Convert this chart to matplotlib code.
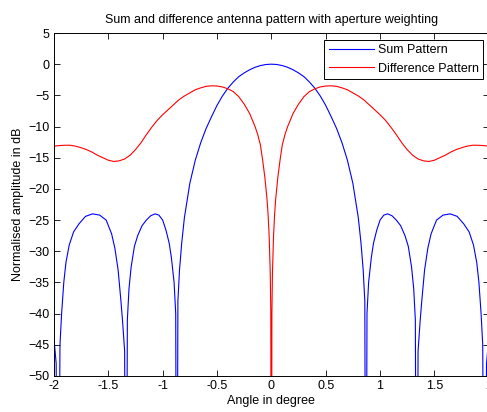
import matplotlib
matplotlib.use("Agg")
import matplotlib.pyplot as plt

# Sum pattern (angle in degree, amplitude in dB)
sum_angle = [-2.0, -1.98, -1.965, -1.945, -1.93, -1.91, -1.89, -1.86, -1.82, -1.77,
             -1.71, -1.645, -1.58, -1.52, -1.47, -1.44, -1.41, -1.385, -1.37, -1.35,
             -1.337, -1.325, -1.31, -1.29, -1.26, -1.23, -1.19, -1.15, -1.11, -1.07,
             -1.035, -1.0, -0.97, -0.94, -0.92, -0.895, -0.88, -0.87, -0.86, -0.845,
             -0.825, -0.8, -0.75, -0.7, -0.65, -0.6, -0.55, -0.5, -0.45, -0.4,
             -0.35, -0.3, -0.25, -0.2, -0.15, -0.1, -0.05, 0.0,
             0.05, 0.1, 0.15, 0.2, 0.25, 0.3, 0.35, 0.4, 0.45, 0.5,
             0.55, 0.6, 0.65, 0.7, 0.75, 0.8, 0.825, 0.845, 0.86, 0.87,
             0.88, 0.895, 0.92, 0.94, 0.97, 1.0, 1.035, 1.07, 1.11, 1.15,
             1.19, 1.23, 1.26, 1.29, 1.31, 1.325, 1.337, 1.35, 1.37, 1.385,
             1.41, 1.44, 1.47, 1.52, 1.58, 1.645, 1.71, 1.77, 1.82, 1.86,
             1.89, 1.91, 1.93, 1.945, 1.962, 1.98, 2.0]
sum_db = [-44.0, -48.0, -100.0, -45.0, -40.0, -35.0, -31.8, -29.0, -26.9, -25.6,
          -24.4, -24.0, -24.2, -25.0, -27.2, -29.5, -33.0, -37.8, -41.0, -46.0,
          -100.0, -41.0, -36.0, -32.5, -29.2, -27.5, -25.9, -25.0, -24.3, -24.0,
          -24.2, -25.0, -26.6, -28.7, -31.0, -35.0, -40.0, -100.0, -38.0, -33.0,
          -28.7, -24.6, -19.1, -15.4, -12.6, -10.3, -8.4, -6.6, -5.1, -3.85,
          -2.85, -2.0, -1.4, -0.9, -0.5, -0.22, -0.05, 0.0,
          -0.05, -0.22, -0.5, -0.9, -1.4, -2.0, -2.85, -3.85, -5.1, -6.6,
          -8.4, -10.3, -12.6, -15.4, -19.1, -24.6, -28.7, -33.0, -38.0, -100.0,
          -40.0, -35.0, -31.0, -28.7, -26.6, -25.0, -24.2, -24.0, -24.3, -25.0,
          -25.9, -27.5, -29.2, -32.5, -36.0, -41.0, -100.0, -46.0, -41.0, -37.8,
          -33.0, -29.5, -27.2, -25.0, -24.2, -24.0, -24.4, -25.6, -26.9, -29.0,
          -31.8, -35.0, -40.0, -45.0, -100.0, -48.0, -44.0]

# Difference pattern (angle in degree, amplitude in dB)
diff_angle = [-2.0, -1.95, -1.9, -1.85, -1.8, -1.75, -1.7, -1.65, -1.6, -1.55,
              -1.5, -1.45, -1.4, -1.35, -1.3, -1.25, -1.2, -1.15, -1.1, -1.05,
              -1.0, -0.95, -0.9, -0.85, -0.8, -0.75, -0.7, -0.65, -0.6, -0.55,
              -0.5, -0.45, -0.4, -0.35, -0.3, -0.25, -0.2, -0.15, -0.125, -0.1,
              -0.08, -0.06, -0.04, -0.03, -0.02, -0.01, -0.005, 0.0,
              0.005, 0.01, 0.02, 0.03, 0.04, 0.06, 0.08, 0.1, 0.125, 0.15,
              0.2, 0.25, 0.3, 0.35, 0.4, 0.45, 0.5, 0.55, 0.6, 0.65,
              0.7, 0.75, 0.8, 0.85, 0.9, 0.95, 1.0, 1.05, 1.1, 1.15,
              1.2, 1.25, 1.3, 1.35, 1.4, 1.45, 1.5, 1.55, 1.6, 1.65,
              1.7, 1.75, 1.8, 1.85, 1.9, 1.95, 2.0]
diff_db = [-13.15, -13.05, -13.0, -13.0, -13.15, -13.4, -13.7, -14.1, -14.6, -15.0,
           -15.4, -15.6, -15.5, -15.2, -14.6, -13.7, -12.6, -11.3, -10.1, -9.0,
           -8.1, -7.3, -6.5, -5.7, -5.1, -4.6, -4.1, -3.8, -3.55, -3.47,
           -3.5, -3.65, -3.95, -4.4, -5.2, -6.4, -7.9, -10.0, -11.3, -13.0,
           -15.4, -18.1, -21.6, -24.1, -27.6, -33.6, -40.0, -100.0,
           -40.0, -33.6, -27.6, -24.1, -21.6, -18.1, -15.4, -13.0, -11.3, -10.0,
           -7.9, -6.4, -5.2, -4.4, -3.95, -3.65, -3.5, -3.47, -3.55, -3.8,
           -4.1, -4.6, -5.1, -5.7, -6.5, -7.3, -8.1, -9.0, -10.1, -11.3,
           -12.6, -13.7, -14.6, -15.2, -15.5, -15.6, -15.4, -15.0, -14.6, -14.1,
           -13.7, -13.4, -13.15, -13.0, -13.0, -13.05, -13.15]

x_ticks = [-2, -1.5, -1, -0.5, 0, 0.5, 1, 1.5, 2]
x_tick_labels = ["-2", "-1.5", "-1", "-0.5", "0", "0.5", "1", "1.5", "2"]
y_ticks = [5, 0, -5, -10, -15, -20, -25, -30, -35, -40, -45, -50]

plt.rcParams['font.family'] = ['Liberation Sans', 'DejaVu Sans']

fig = plt.figure(figsize=(4.87, 4.12), dpi=100)
fig.patch.set_facecolor('white')
ax = fig.add_axes([54 / 487, 1 - 376 / 412, (488.7 - 54) / 487, (376 - 33) / 412])

ax.plot(sum_angle, sum_db, color='#0000ff', lw=0.8, label='Sum Pattern')
ax.plot(diff_angle, diff_db, color='#ff0000', lw=0.8, label='Difference Pattern')

ax.set_xlim(-2, 2)
ax.set_ylim(-50, 5)
ax.set_xticks(x_ticks)
ax.set_xticklabels(x_tick_labels)
ax.set_yticks(y_ticks)
ax.tick_params(direction='in', length=4, width=0.6, labelsize=9,
               top=True, right=True, pad=3)
for s in ax.spines.values():
    s.set_linewidth(0.7)

ax.set_title('Sum and difference antenna pattern with aperture weighting',
             fontsize=9, pad=7)
ax.set_xlabel('Angle in degree', fontsize=9, labelpad=2)
ax.set_ylabel('Normalised amplitude in dB', fontsize=9, labelpad=3)

leg = ax.legend(loc='upper right', bbox_to_anchor=(483.3 / 487, 1 - 40 / 412),
                bbox_transform=fig.transFigure, fontsize=9, frameon=True,
                fancybox=False, edgecolor='black', framealpha=1,
                handlelength=3.6, handletextpad=0.35, borderpad=0.35,
                labelspacing=0.5, borderaxespad=0)
leg.get_frame().set_linewidth(0.7)

fig.savefig('out.png', dpi=100, facecolor='white')
